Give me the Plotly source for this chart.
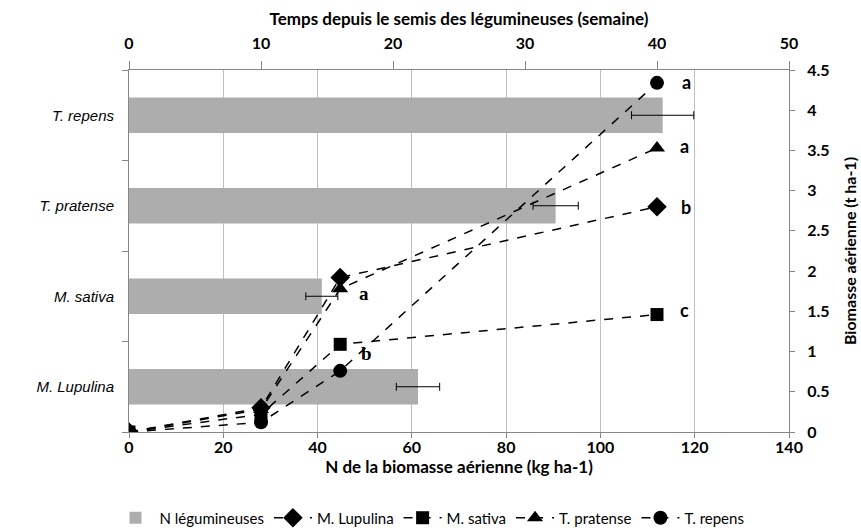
import plotly.graph_objects as go

# Bar data (bottom axis: N kg/ha)
categories = ["M. Lupulina", "M. sativa", "T. pratense", "T. repens"]
n_values = [61.3, 40.9, 90.5, 113.2]
n_errors = [4.6, 3.4, 4.8, 6.6]

# Line data (top axis: weeks, right axis: biomass t/ha)
weeks = [0, 10, 16, 40]
lupulina = [0.0, 0.30, 1.92, 2.80]
sativa = [0.0, 0.22, 1.09, 1.46]
pratense = [0.0, 0.28, 1.78, 3.53]
repens = [0.0, 0.12, 0.76, 4.34]

# Letters (significance)
letters_text = ["a", "a", "b", "c", "a", "b"]
letters_x = [42.2, 42.1, 42.2, 42.1, 17.8, 18.0]
letters_y = [4.35, 3.55, 2.80, 1.52, 1.72, 0.97]
letters_serif = [False, False, False, False, True, True]

FONT = "Lato"
AXIS_COLOR = "#868686"
GRID = "#BFBFBF"

fig = go.Figure()

fig.add_trace(go.Bar(
    y=categories, x=n_values, orientation="h",
    marker=dict(color="#ADADAD", line=dict(width=0)),
    error_x=dict(type="data", array=n_errors, color="black", thickness=1, width=4),
    name="N légumineuses",
))

series = [
    ("M. Lupulina", lupulina, "diamond", 15),
    ("M. sativa", sativa, "square", 13),
    ("T. pratense", pratense, "triangle-up", 14),
    ("T. repens", repens, "circle", 14),
]
for name, vals, sym, sz in series:
    fig.add_trace(go.Scatter(
        x=weeks, y=vals, xaxis="x2", yaxis="y2", name=name,
        mode="lines+markers",
        line=dict(color="black", width=1.5, dash="dash"),
        marker=dict(symbol=sym, size=sz, color="black"),
    ))

for t, x, y, serif in zip(letters_text, letters_x, letters_y, letters_serif):
    fig.add_annotation(
        x=x, y=y, xref="x2", yref="y2", text=t, showarrow=False,
        font=dict(family="Liberation Serif" if serif else FONT, size=19 if serif else 18,
                  color="black", weight="bold"),
    )

fig.update_layout(
    width=861, height=528,
    margin=dict(l=129, r=72, t=70, b=96),
    paper_bgcolor="white", plot_bgcolor="white",
    font=dict(family=FONT, size=15, color="black"),
    bargap=0.61,
    showlegend=True,
    legend=dict(orientation="h", x=0.5, xanchor="center", xref="container",
                y=0.019, yanchor="middle", yref="container", itemwidth=38,
                font=dict(family=FONT, size=15), tracegroupgap=0),
    xaxis=dict(
        range=[0, 140], dtick=20, showgrid=True, gridcolor=GRID, gridwidth=1,
        showline=True, linecolor=AXIS_COLOR, ticks="outside", tickcolor=AXIS_COLOR, ticklen=5,
        zeroline=False, automargin=False, ticklabelstandoff=-4,
        tickfont=dict(family=FONT, size=16, weight="bold"),
        title=dict(text="N de la biomasse aérienne (kg ha-1)", standoff=4,
                   font=dict(family=FONT, size=17, weight="bold")),
    ),
    yaxis=dict(
        type="category", categoryorder="array", categoryarray=categories,
        range=[-0.5, 3.5], tickson="boundaries", ticks="outside", ticklen=6,
        tickcolor=AXIS_COLOR, showline=True, linecolor=AXIS_COLOR, showgrid=False,
        automargin=False,
        tickfont=dict(family="Liberation Sans", size=15, style="italic"),
        ticklabelstandoff=11,
    ),
    xaxis2=dict(
        overlaying="x", side="top", range=[0, 50], dtick=10, showgrid=False,
        showline=True, linecolor=AXIS_COLOR, ticks="outside", tickcolor=AXIS_COLOR, ticklen=8,
        zeroline=False, automargin=False, ticklabelstandoff=6,
        tickfont=dict(family=FONT, size=16, weight="bold"),
        title=dict(text="Temps depuis le semis des légumineuses (semaine)", standoff=2,
                   font=dict(family=FONT, size=17, weight="bold")),
    ),
    yaxis2=dict(
        overlaying="y", side="right", range=[0, 4.5], dtick=0.5, showgrid=False,
        showline=True, linecolor=AXIS_COLOR, ticks="outside", tickcolor=AXIS_COLOR, ticklen=5,
        zeroline=False, automargin=False,
        tickfont=dict(family=FONT, size=16, weight="bold"),
        ticklabelstandoff=9,
        title=dict(text="Biomasse aérienne (t ha-1)", standoff=16,
                   font=dict(family=FONT, size=16, weight="bold")),
    ),
)

fig.write_html("out.html", config={"displayModeBar": False},
               post_script="document.body.style.margin='0px';")
